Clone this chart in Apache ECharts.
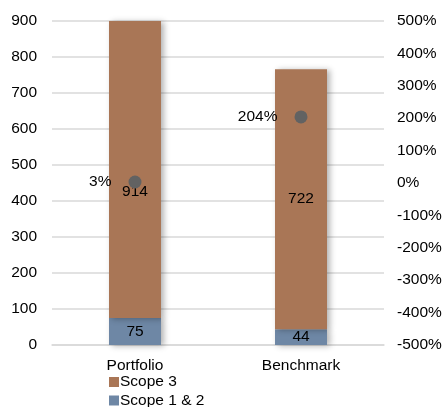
<!DOCTYPE html>
<html>
<head>
<meta charset="utf-8">
<script src="https://cdn.jsdelivr.net/npm/echarts@6/dist/echarts.min.js"></script>
<style>
  html, body { margin: 0; padding: 0; background: #fff; }
  #chart { width: 445px; height: 407px; }
</style>
</head>
<body>
<div id="chart"></div>
<script>
var categories = ['Portfolio', 'Benchmark'];
var scope12 = [75, 44];
var scope3 = [914, 722];
var change = [3, 204];
var leftTicks = { min: 0, max: 900, interval: 100 };
var rightTicks = { min: -500, max: 500, interval: 100 };

var chart = echarts.init(document.getElementById('chart'));
var font = 'Liberation Sans, Arial, sans-serif';
var fs = 15.5;

var option = {
    animation: false,
    textStyle: { fontFamily: font },
    grid: { left: 52, right: 61, top: 21, bottom: 62 },
    legend: {
        orient: 'vertical',
        left: 109,
        top: 374,
        height: 60,
        padding: 0,
        itemGap: 2.5,
        itemWidth: 10,
        itemHeight: 10,
        icon: 'rect',
        data: ['Scope 3', 'Scope 1 & 2'],
        textStyle: { fontSize: fs, color: '#000', padding: [0, 0, 0, -4], fontFamily: font }
    },
    xAxis: {
        type: 'category',
        data: categories,
        axisLine: { lineStyle: { color: '#d9d9d9', width: 1.5 } },
        axisTick: { show: false },
        axisLabel: { fontSize: fs, color: '#000', margin: 13, fontFamily: font }
    },
    yAxis: [
        {
            type: 'value',
            min: leftTicks.min, max: leftTicks.max, interval: leftTicks.interval,
            axisLabel: { fontSize: fs, color: '#000', margin: 15, fontFamily: font },
            splitLine: { lineStyle: { color: '#d9d9d9', width: 1.5 } },
            axisLine: { show: false }, axisTick: { show: false }
        },
        {
            type: 'value',
            min: rightTicks.min, max: rightTicks.max, interval: rightTicks.interval,
            axisLabel: { fontSize: fs, color: '#000', margin: 13, formatter: '{value}%', fontFamily: font },
            splitLine: { show: false },
            axisLine: { show: false }, axisTick: { show: false }
        }
    ],
    series: [
        {
            name: 'Scope 1 & 2',
            type: 'bar',
            stack: 'total',
            barWidth: 52,
            data: scope12,
            itemStyle: {
                color: '#6e87a5',
                shadowBlur: 6, shadowOffsetX: 3, shadowOffsetY: 1, shadowColor: 'rgba(0,0,0,0.3)'
            },
            label: { show: true, position: 'inside', color: '#000', fontSize: fs, fontFamily: font }
        },
        {
            name: 'Scope 3',
            type: 'bar',
            stack: 'total',
            barWidth: 52,
            data: scope3.map(function (v, i) {
                return i === 0 ? { value: v, label: { offset: [0, 22] } } : v;
            }),
            itemStyle: {
                color: '#a97656',
                shadowBlur: 6, shadowOffsetX: 3, shadowOffsetY: 1, shadowColor: 'rgba(0,0,0,0.3)'
            },
            label: { show: true, position: 'inside', color: '#000', fontSize: fs, fontFamily: font }
        },
        {
            name: 'Change',
            type: 'scatter',
            yAxisIndex: 1,
            symbolSize: 13,
            data: change,
            itemStyle: { color: '#626262', opacity: 1 },
            label: {
                show: true, position: 'left', distance: 17, color: '#000', opacity: 1,
                fontSize: fs, fontFamily: font, formatter: '{c}%'
            },
            z: 5
        }
    ]
};

chart.setOption(option);
window.addEventListener('resize', chart.resize);
</script>
</body>
</html>
